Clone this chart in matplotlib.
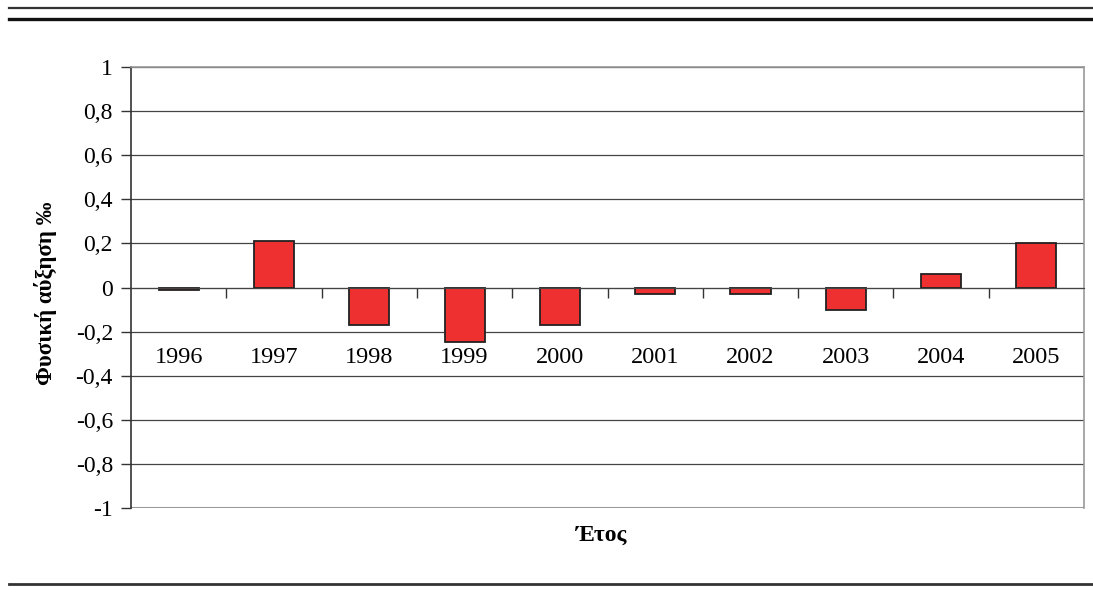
import numpy as np
import matplotlib
matplotlib.use("Agg")
import matplotlib.pyplot as plt
from matplotlib.lines import Line2D

# data
years = ["1996", "1997", "1998", "1999", "2000", "2001", "2002", "2003", "2004", "2005"]
growth = [-0.01, 0.21, -0.17, -0.245, -0.17, -0.03, -0.03, -0.10, 0.06, 0.20]
y_ticks = [-1, -0.8, -0.6, -0.4, -0.2, 0, 0.2, 0.4, 0.6, 0.8, 1]
y_labels = ["-1", "-0,8", "-0,6", "-0,4", "-0,2", "0", "0,2", "0,4", "0,6", "0,8", "1"]

plt.rcParams['font.family'] = ['Liberation Serif', 'DejaVu Serif']

fig = plt.figure(figsize=(10.93, 5.93), dpi=100)
ax = fig.add_axes([0.1199, 0.1433, 0.8719, 0.7437])

x = np.arange(len(years))
ax.bar(x, growth, width=0.42, color='#EE3030', edgecolor='#222222', linewidth=1.3, zorder=3)

ax.set_xlim(-0.5, len(years) - 0.5)
ax.set_ylim(-1, 1)

# grid
ax.set_yticks(y_ticks)
ax.set_yticklabels(y_labels, fontsize=17)
ax.yaxis.grid(True, color='#444444', linewidth=0.9, zorder=0)
ax.tick_params(axis='y', direction='out', length=7, width=1, color='#333333', pad=6)

# x axis at zero, ticks between categories, labels lower down
ax.spines['bottom'].set_position(('data', 0))
ax.spines['bottom'].set_color('#444444')
ax.spines['bottom'].set_zorder(4)
ax.set_xticks(x)
ax.set_xticklabels(years, fontsize=17.5)
ax.tick_params(axis='x', which='major', length=0, pad=43)
ax.set_xticks(np.arange(0.5, len(years) - 0.5), minor=True)
ax.tick_params(axis='x', which='minor', direction='out', length=7, width=1, color='#333333')

ax.spines['left'].set_color('#333333')
ax.spines['left'].set_linewidth(1.2)
for s in ['top', 'right']:
    ax.spines[s].set_color('#999999')
    ax.spines[s].set_linewidth(1.2)

# bottom frame line of the plot area
ax.axhline(-1, color='#999999', linewidth=2.2, zorder=2)

fig.text(0.042, 0.505, 'Φυσική αύξηση ‰', rotation=90, ha='center', va='center',
         fontsize=16.5, fontweight='bold')
fig.text(0.55, 0.098, 'Έτος', ha='center', va='center', fontsize=17, fontweight='bold')

# horizontal rules above and below
fig.add_artist(Line2D([0.008, 1], [0.9865, 0.9865], color='#333333', linewidth=1.6))
fig.add_artist(Line2D([0.008, 1], [0.968, 0.968], color='#111111', linewidth=2.4))
fig.add_artist(Line2D([0.008, 1], [0.0152, 0.0152], color='#333333', linewidth=2.0))

fig.savefig('out.png', dpi=100)
